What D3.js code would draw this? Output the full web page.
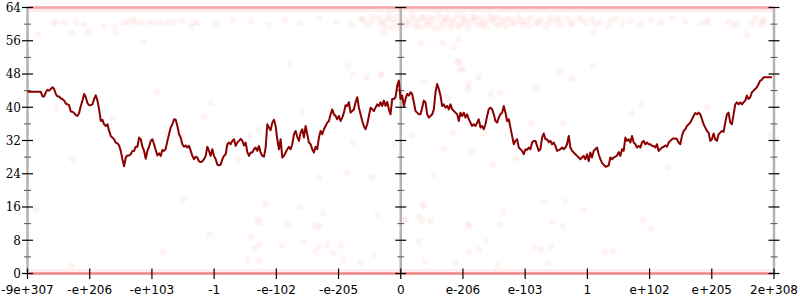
<!DOCTYPE html>
<html><head><meta charset="utf-8">
<script src="https://cdn.jsdelivr.net/npm/d3@7"></script>
<style>html,body{margin:0;padding:0;background:#fff;} svg{display:block;}</style>
</head><body><svg id="chart" width="800" height="300"></svg>
<script>
const xTickPositions = [-6,-5,-4,-3,-2,-1,0,1,2,3,4,5,6];
const xTickLabels = ["-9e+307","-e+206","-e+103","-1","-e-102","-e-205","0","e-206","e-103","1","e+102","e+205","2e+308"];
const yMajorTicks = [0,8,16,24,32,40,48,56,64];
const yMinorTicks = [4,12,20,28,36,44,52,60];
const verticalAxes = [-6, 0, 6];
const bandValues = [0, 64];
const lineStartX = -6;
const lineStepX = 0.02677;
const lineValues = [
43.7,43.7,43.7,43.7,43.7,43.7,43.7,43.7,43.7,
42.6,42.6,43.6,44.2,44.0,44.4,44.8,44.4,43.2,42.6,
42.6,42.1,42.0,41.6,40.9,40.7,40.5,39.0,38.9,38.6,
38.1,37.9,38.6,40.3,41.6,43.2,42.4,41.0,40.5,40.5,
40.7,42.0,42.9,41.6,39.5,36.7,37.0,35.9,35.5,35.9,
34.3,33.1,32.7,32.3,31.5,31.3,30.8,29.5,27.5,25.8,
27.9,28.4,28.4,28.7,29.5,29.5,30.5,30.5,32.7,32.3,
30.5,29.5,27.6,29.5,30.5,31.9,32.3,31.1,29.7,28.4,
28.9,28.3,29.7,29.5,30.0,31.9,33.5,35.1,35.9,37.1,
37.0,35.5,33.5,32.7,31.1,30.5,30.8,30.3,30.7,29.5,
28.3,27.5,28.1,27.9,27.0,26.8,27.0,27.5,28.3,30.5,
29.5,28.3,29.9,28.3,27.5,26.2,26.0,26.2,27.5,28.3,
28.7,31.1,31.5,31.1,31.9,32.3,30.7,31.5,31.9,32.4,
31.9,30.8,31.5,29.2,28.3,29.1,29.1,29.9,30.3,29.5,
30.7,29.1,28.3,28.1,30.3,35.9,35.1,34.5,
36.3,37.0,35.5,32.3,29.9,32.3,27.9,28.3,29.1,29.9,
30.5,29.9,31.1,33.5,34.3,32.9,31.9,33.9,34.7,32.7,
35.5,33.5,31.5,31.1,29.9,29.1,30.5,29.9,32.7,34.3,
33.5,34.7,35.5,36.3,36.7,38.3,39.5,38.3,37.9,37.1,
37.9,36.7,37.5,38.7,40.5,40.3,41.2,38.7,39.1,39.5,
41.2,42.4,39.9,38.3,36.7,35.5,34.7,35.9,37.9,39.9,
39.5,39.1,39.9,40.7,40.3,41.2,40.3,41.6,40.3,41.3,
39.5,38.3,42.0,42.0,42.4,45.2,46.4,42.0,42.8,40.3,
42.0,43.2,42.8,43.6,43.2,41.2,39.1,38.7,38.3,38.3,
39.9,41.6,41.2,38.3,37.5,37.9,38.3,39.5,43.6,45.6,
44.4,42.8,40.3,40.7,39.9,40.3,39.5,40.7,39.5,39.1,
38.7,38.3,36.7,38.7,37.9,38.7,37.5,38.3,37.1,36.3,
35.5,35.9,35.5,36.3,37.1,35.1,35.5,34.7,35.9,37.9,
39.5,39.9,39.5,38.3,36.7,36.3,37.5,38.3,38.7,40.3,
38.7,36.7,37.1,35.1,33.1,31.1,31.9,32.3,30.3,29.9,
29.5,28.7,29.9,29.7,30.3,29.9,
31.5,31.9,31.9,30.7,29.5,29.9,32.7,33.7,32.3,32.3,
31.6,31.9,31.1,31.5,30.7,29.5,29.7,29.9,30.3,29.9,
30.3,31.1,33.1,30.3,29.5,29.1,28.7,28.3,27.9,27.5,
27.9,28.3,27.5,28.7,27.0,29.1,27.9,29.5,29.9,30.3,
28.7,27.5,26.6,26.2,25.7,25.8,26.0,27.9,27.5,27.9,
28.1,28.4,29.2,28.3,29.9,29.5,32.7,31.9,32.3,31.5,
33.1,31.5,31.1,30.3,30.7,30.3,31.5,31.9,31.1,31.5,
31.1,31.1,30.7,30.7,30.3,31.1,29.5,29.9,30.3,30.5,
30.8,30.5,31.5,31.9,32.3,32.5,32.5,32.3,31.5,31.1,
33.1,34.3,34.7,35.5,35.9,36.3,37.1,37.9,38.6,38.3,
38.7,38.3,37.1,35.9,35.1,34.3,33.9,31.9,32.3,33.7,
32.3,31.9,33.5,33.9,34.3,34.1,36.3,38.3,38.7,36.3,
35.9,38.3,40.7,41.2,40.7,41.2,40.7,41.2,41.6,42.8,
42.0,42.4,43.6,44.0,44.4,44.8,45.6,46.4,46.6,47.2,
47.2,47.2,47.2,47.2,47.2
];
const scatterX = [
-5.83,-5.59,-5.54,-5.41,-5.30,-5.22,-5.09,-5.03,-4.77,-4.61,-4.58,-4.45,-4.39,-4.31,-4.26,-4.18,-4.13,-4.06,-3.98,-3.86,-3.74,-3.65,-3.53,-3.37,-3.33,-3.26,
-2.97,-2.70,-2.41,-2.12,-1.85,-1.61,-1.32,-1.04,-0.80,-0.61,-0.45,
-0.35,-0.29,-0.24,-0.19,-0.13,-0.08,-0.03,0.03,0.08,0.13,0.18,0.22,0.27,0.32,0.37,0.42,0.47,0.51,0.56,0.61,0.66,0.71,0.76,0.80,0.85,0.90,0.95,1.00,1.04,1.09,1.14,1.19,1.24,1.29,1.33,1.38,1.43,1.48,1.53,1.57,1.64,1.70,1.77,1.83,1.90,1.96,2.02,2.09,2.17,2.25,2.33,2.41,2.49,2.57,2.67,2.76,2.86,2.97,3.08,3.21,3.34,3.45,3.57,3.69,3.86,4.02,4.18,4.37,4.58,4.82,4.92,4.93,5.27,5.35,5.41,5.57,5.65,5.70,5.80,5.82,5.83,
-0.32,-0.22,-0.14,-0.05,0.05,0.14,0.24,0.34,0.43,0.53,0.63,0.72,0.82,0.92,1.01,1.11,1.20,1.30,1.40,1.49,1.59,1.69,1.78,1.93,2.06,2.22,2.38,2.54,2.73,2.92,3.13,3.37,-0.48,-0.56,-0.64,
-5.86,-5.30,-3.82,-3.50,-2.17,-1.61,-3.07,-2.30,-2.28,-1.82,-1.37,-1.30,-1.25,-2.41,-2.35,-2.27,-1.91,-1.56,-1.32,-1.17,-0.96,-1.37,-1.08,-0.92,-0.64,-0.43,-2.46,-2.28,-0.37,0.05,
0.35,0.37,0.29,0.34,0.48,0.08,0.29,1.09,1.09,1.59,1.65,1.37,1.25,1.09,0.88,0.40,1.56,2.14,2.25,2.41,2.30,2.65,2.44,2.60,2.94,2.36,3.28,3.42,3.90,4.02,
-3.92,-3.05,-5.54,-3.16,-4.63,-3.76,-3.52,-5.27,-2.62,-2.43,-2.28,-1.78,-0.85,-0.76,-0.55,-0.31,0.37,0.93,1.00,1.09,1.08,1.59,-1.59,0.19,0.85,1.35,0.69,-0.76,-0.11,1.14,1.48,-0.87,0.53,-1.32,-0.47,1.86,2.55,3.10,2.76,2.17,2.09,2.60,3.87,3.71,4.93,5.96,4.29,
0.32,0.67,0.84,0.93,0.96,0.92,1.25,1.45,0.76,-0.32,3.10,-0.27
];
const scatterY = [
57.5,60.4,60.6,60.4,58.0,60.6,59.9,58.0,59.4,59.4,58.0,60.4,60.6,61.1,60.4,60.4,55.6,60.6,60.4,60.4,60.4,60.6,60.6,59.2,60.4,60.4,
60.2,61.1,60.6,59.9,60.9,60.2,61.4,60.6,59.9,61.1,61.8,
61.6,60.6,59.4,62.1,61.1,60.2,58.7,61.6,60.6,59.7,62.3,61.1,60.2,59.2,61.8,60.6,61.4,59.9,58.7,62.1,60.9,60.2,61.6,59.2,60.9,62.1,59.9,61.1,60.4,59.0,61.8,60.9,59.9,61.4,60.4,59.2,62.1,60.9,59.9,61.6,60.6,59.4,61.4,60.4,61.8,59.9,60.9,61.6,60.2,61.1,59.4,61.6,60.6,59.9,61.4,60.4,61.6,60.2,61.1,60.6,59.4,61.4,60.2,60.9,59.9,61.1,60.4,61.4,60.6,60.2,60.4,60.9,60.6,59.9,59.9,57.5,60.4,61.6,59.9,61.1,60.6,
59.9,61.1,59.2,61.8,59.7,60.9,59.2,61.4,59.7,61.1,59.4,61.4,60.4,59.4,61.8,60.6,61.6,59.7,60.9,61.6,59.7,61.1,60.2,60.9,59.7,60.4,60.6,61.4,59.9,60.9,59.9,60.9,60.6,59.7,61.4,
15.4,1.9,5.1,17.8,16.8,15.9,9.4,13.0,12.3,11.8,11.5,11.3,14.4,8.7,6.0,7.0,6.7,7.7,6.5,7.0,6.7,5.3,4.8,3.4,2.6,4.6,3.1,2.9,14.2,13.0,
16.6,16.1,13.7,12.8,12.5,13.0,7.7,12.0,11.3,11.8,14.9,7.7,5.8,5.1,2.6,2.9,1.9,6.5,5.8,6.5,17.3,17.3,12.5,11.5,15.2,2.6,5.1,5.5,12.8,10.8,
43.6,41.1,39.9,37.8,37.5,33.7,33.0,27.4,27.2,33.0,34.6,50.5,50.0,47.9,47.2,47.9,46.2,50.8,49.1,45.5,44.3,43.3,39.0,33.2,33.9,33.7,30.1,31.5,31.0,29.4,26.2,24.3,23.8,23.1,23.1,27.7,48.6,50.0,46.9,44.5,36.3,36.3,40.7,38.5,40.2,33.7,25.5,
55.6,55.6,54.4,56.3,49.1,51.0,47.2,43.1,42.3,47.9,58.0,58.0
];

const svg = d3.select("#chart");
const x = d3.scaleLinear().domain([-6, 6]).range([27.5, 774]);
const y = d3.scaleLinear().domain([0, 64]).range([273.5, 7.5]);

// dense bands of points at 0 and 64
const bands = svg.append("g");
bandValues.forEach(v => {
  const off = v === 0 ? -1.5 : 1.5;
  bands.append("line").attr("x1", x(-6)).attr("x2", x(6)).attr("y1", y(v) + off).attr("y2", y(v) + off)
    .attr("stroke", "#ff0000").attr("stroke-opacity", 0.07).attr("stroke-width", 6);
  bands.append("line").attr("x1", x(-6)).attr("x2", x(6)).attr("y1", y(v)).attr("y2", y(v))
    .attr("stroke", "#e53535").attr("stroke-opacity", v === 0 ? 0.55 : 0.4).attr("stroke-width", 2.5);
});

// scattered points
svg.append("g").selectAll("circle").data(scatterX.map((d, i) => [d, scatterY[i]])).join("circle")
  .attr("cx", d => x(d[0])).attr("cy", d => y(d[1])).attr("r", 3.5)
  .attr("fill", "#ff0000").attr("fill-opacity", 0.045);

// vertical axes
const axesG = svg.append("g");
verticalAxes.forEach(a => {
  const ax = x(a);
  axesG.append("line").attr("x1", ax).attr("x2", ax).attr("y1", y(64)).attr("y2", y(0))
    .attr("stroke", "#b4b4b4").attr("stroke-width", 2.5);
  yMinorTicks.forEach(t => {
    axesG.append("line").attr("x1", ax - 3.5).attr("x2", ax + 3.5).attr("y1", y(t)).attr("y2", y(t))
      .attr("stroke", "#555").attr("stroke-width", 1);
  });
  yMajorTicks.forEach(t => {
    axesG.append("line").attr("x1", ax - 5.5).attr("x2", ax + 5.5).attr("y1", y(t)).attr("y2", y(t))
      .attr("stroke", "#000").attr("stroke-width", 1.2);
  });
});

// x ticks
xTickPositions.forEach((p, i) => {
  axesG.append("line").attr("x1", x(p)).attr("x2", x(p)).attr("y1", y(0) - 5).attr("y2", y(0) + 5.5)
    .attr("stroke", "#000").attr("stroke-width", 1.2);
  axesG.append("text").attr("x", x(p)).attr("y", 294).attr("text-anchor", "middle")
    .attr("font-family", "DejaVu Sans").attr("font-size", 12).attr("fill", "#000").text(xTickLabels[i]);
});

// y labels
yMajorTicks.forEach(t => {
  axesG.append("text").attr("x", 21).attr("y", y(t)).attr("dy", "0.36em").attr("text-anchor", "end")
    .attr("font-family", "DejaVu Serif").attr("font-size", 12).attr("fill", "#000").text(t);
});

// line
const line = d3.line().x((d, i) => x(lineStartX + i * lineStepX)).y(d => y(d));
svg.append("path").datum(lineValues).attr("d", line)
  .attr("fill", "none").attr("stroke", "#8b0000").attr("stroke-width", 2).attr("stroke-linejoin", "round");
</script></body></html>
